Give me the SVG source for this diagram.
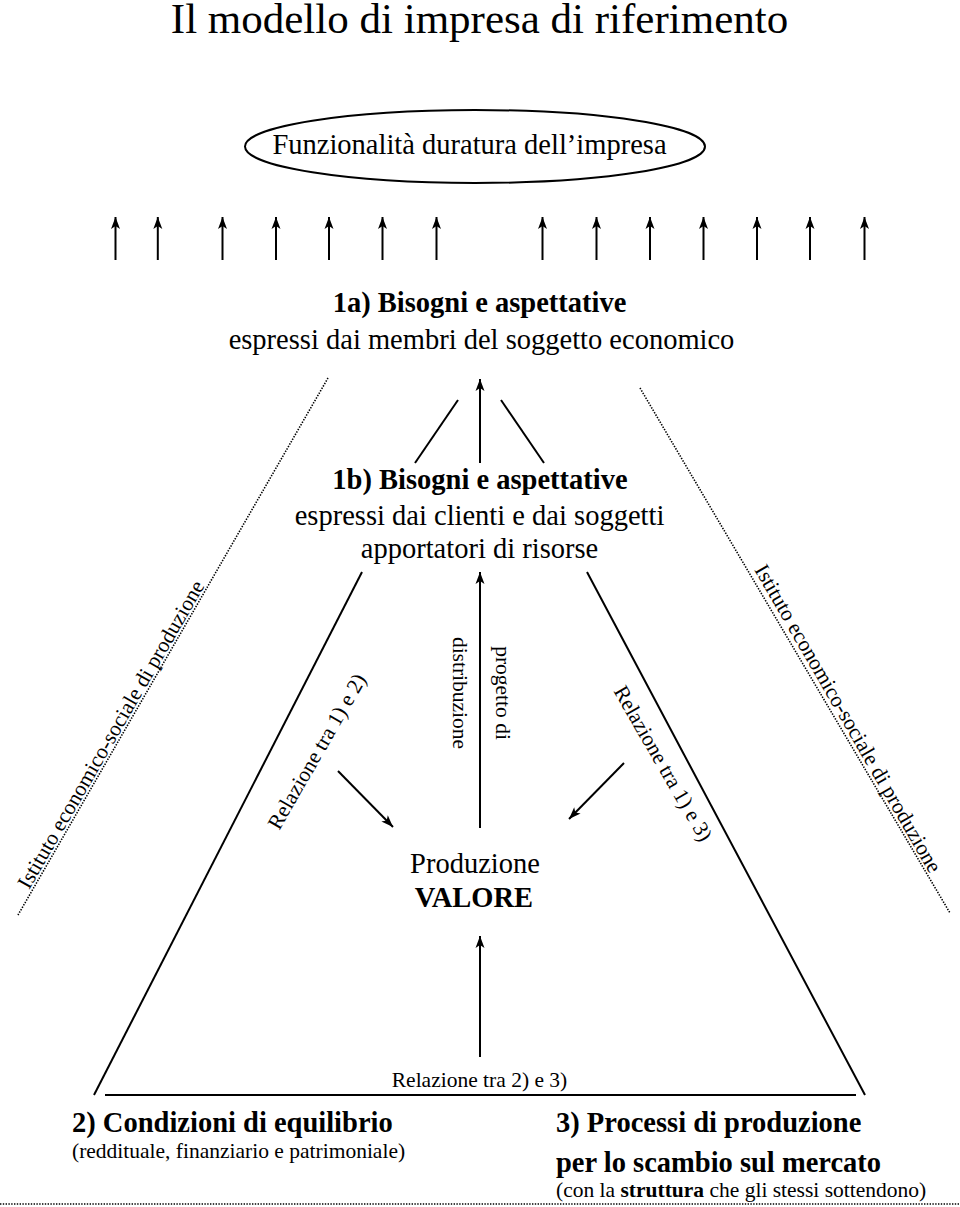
<svg xmlns="http://www.w3.org/2000/svg" width="960" height="1207" viewBox="0 0 960 1207">
<style>
text{font-family:"Liberation Serif","Times New Roman",serif;fill:#000}
.t{font-size:28.5px}
.s{font-size:21.5px}
.b{font-weight:bold}
.m{text-anchor:middle}
.ln{stroke:#000;stroke-width:2;fill:none}
.ar{stroke:#000;stroke-width:2;fill:none;marker-end:url(#ah)}
.dot{stroke:#000;stroke-width:1.6;stroke-dasharray:1.4 1.4;fill:none}
</style>
<defs>
<marker id="ah" markerUnits="userSpaceOnUse" viewBox="-13 -6 14 12" refX="0" refY="0" markerWidth="14" markerHeight="12" orient="auto">
<path d="M0,0 L-12,-4.5 L-9,0 L-12,4.5 Z" fill="#000"/>
</marker>
</defs>
<rect width="960" height="1207" fill="#fff"/>
<g id="title"><text class="m" x="479.5" y="33" style="font-size:43px">Il modello di impresa di riferimento</text></g>
<g id="funzionalita">
<ellipse cx="475" cy="146.5" rx="230" ry="36.5" fill="none" stroke="#000" stroke-width="2"/>
<text class="t m" x="469.5" y="154">Funzionalità duratura dell’impresa</text>
</g>
<g id="bisogni-1a">
<text class="t m b" x="479.5" y="312">1a) Bisogni e aspettative</text>
<text class="t m" x="481.5" y="349">espressi dai membri del soggetto economico</text>
</g>
<g id="bisogni-1b">
<text class="t m b" x="480" y="489">1b) Bisogni e aspettative</text>
<text class="t m" x="479.5" y="525">espressi dai clienti e dai soggetti</text>
<text class="t m" x="479.5" y="558">apportatori di risorse</text>
</g>
<g id="produzione-valore">
<text class="t m" x="475" y="873">Produzione</text>
<text class="t m b" x="474" y="907">VALORE</text>
</g>
<g id="condizioni-2">
<text class="t b" x="72" y="1132">2) Condizioni di equilibrio</text>
<text class="s" x="72" y="1158">(reddituale, finanziario e patrimoniale)</text>
</g>
<g id="processi-3">
<text class="t b" x="556" y="1132">3) Processi di produzione</text>
<text class="t b" x="556" y="1172">per lo scambio sul mercato</text>
<text class="s" x="556" y="1197">(con la <tspan class="b">struttura</tspan> che gli stessi sottendono)</text>
</g>
<g id="istituto-left">
<line class="dot" x1="328" y1="378" x2="18" y2="915"/>
<text class="s m" transform="translate(117,738) rotate(-60)">Istituto economico-sociale di produzione</text>
</g>
<g id="istituto-right">
<line class="dot" x1="640" y1="388" x2="950" y2="913"/>
<text class="s m" transform="translate(842,722) rotate(60)">Istituto economico-sociale di produzione</text>
</g>
<g id="connectors">
<line class="ar" x1="115.5" y1="260" x2="115.5" y2="217"/>
<line class="ar" x1="157.8" y1="260" x2="157.8" y2="217"/>
<line class="ar" x1="222.5" y1="260" x2="222.5" y2="217"/>
<line class="ar" x1="276" y1="260" x2="276" y2="217"/>
<line class="ar" x1="329" y1="260" x2="329" y2="217"/>
<line class="ar" x1="382.5" y1="260" x2="382.5" y2="217"/>
<line class="ar" x1="436.5" y1="260" x2="436.5" y2="217"/>
<line class="ar" x1="542.5" y1="260" x2="542.5" y2="217"/>
<line class="ar" x1="596.5" y1="260" x2="596.5" y2="217"/>
<line class="ar" x1="650" y1="260" x2="650" y2="217"/>
<line class="ar" x1="703.5" y1="260" x2="703.5" y2="217"/>
<line class="ar" x1="757" y1="260" x2="757" y2="217"/>
<line class="ar" x1="810" y1="260" x2="810" y2="217"/>
<line class="ar" x1="864.5" y1="260" x2="864.5" y2="217"/>
<line class="ar" x1="480" y1="463" x2="480" y2="379"/>
<line class="ln" x1="458" y1="400" x2="415" y2="463"/>
<line class="ln" x1="501" y1="400" x2="544" y2="463"/>
<line class="ln" x1="362" y1="572" x2="94" y2="1095"/>
<line class="ln" x1="587" y1="572" x2="865" y2="1095"/>
<line class="ln" x1="105" y1="1095" x2="856" y2="1095"/>
<line class="ar" x1="480" y1="828" x2="480" y2="572"/>
<line class="ar" x1="480" y1="1057" x2="480" y2="936"/>
<line class="ar" x1="338" y1="771" x2="393" y2="827"/>
<line class="ar" x1="624" y1="763" x2="569" y2="819"/>
<line class="dot" x1="0" y1="1204" x2="960" y2="1204"/>
<text class="s" transform="translate(479.5,693) rotate(90)" style="text-anchor:middle"><tspan x="0" y="-16">progetto di</tspan><tspan x="0" y="27">distribuzione</tspan></text>
<text class="s m" transform="translate(323,755) rotate(-60)">Relazione tra 1) e 2)</text>
<text class="s m" transform="translate(657,767) rotate(60)">Relazione tra 1) e 3)</text>
<text class="s m" x="479.5" y="1087">Relazione tra 2) e 3)</text>
</g>
</svg>
